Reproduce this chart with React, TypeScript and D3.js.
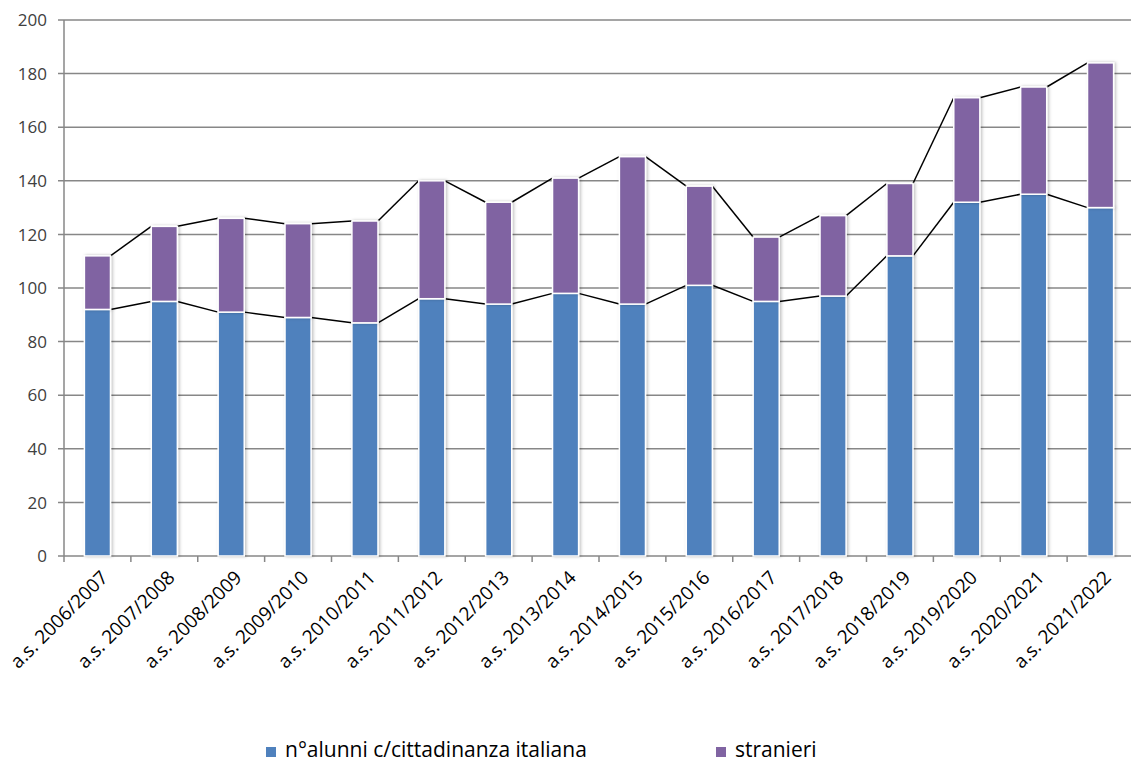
import React from "react";
import * as d3 from "d3";

const categories = [
  "a.s. 2006/2007", "a.s. 2007/2008", "a.s. 2008/2009", "a.s. 2009/2010",
  "a.s. 2010/2011", "a.s. 2011/2012", "a.s. 2012/2013", "a.s. 2013/2014",
  "a.s. 2014/2015", "a.s. 2015/2016", "a.s. 2016/2017", "a.s. 2017/2018",
  "a.s. 2018/2019", "a.s. 2019/2020", "a.s. 2020/2021", "a.s. 2021/2022",
];
const italiani = [92, 95, 91, 89, 87, 96, 94, 98, 94, 101, 95, 97, 112, 132, 135, 130];
const stranieri = [20, 28, 35, 35, 38, 44, 38, 43, 55, 37, 24, 30, 27, 39, 40, 54];
const seriesNames = ["n°alunni c/cittadinanza italiana", "stranieri"];
const colors = ["#4F81BD", "#8064A2"];
const yTicks = [0, 20, 40, 60, 80, 100, 120, 140, 160, 180, 200];

const W = 1131, H = 763;
const left = 64, right = 1134, top = 20, bottom = 556;
const FONT = "'Open Sans', 'Liberation Sans', sans-serif";

export default function App() {
  const x = d3.scaleBand<string>().domain(categories).range([left, right]).paddingInner(0.61).paddingOuter(0.305);
  const step = x.step();
  const y = d3.scaleLinear().domain([0, 200]).range([bottom, top]);
  const rows = categories.map((c, i) => ({ c, italiani: italiani[i], stranieri: stranieri[i] }));
  const stack = d3.stack<any>().keys(["italiani", "stranieri"])(rows);
  const bw = x.bandwidth();
  const grid = "#878787";

  return (
    <svg width={W} height={H} style={{ position: "absolute", left: 0, top: 0, background: "#fff" }} fontFamily={FONT}>
      <defs>
        <filter id="sh" x="-30%" y="-5%" width="160%" height="110%">
          <feDropShadow dx="1.5" dy="0" stdDeviation="1.5" floodColor="#000" floodOpacity="0.25" />
        </filter>
      </defs>
      {yTicks.map((t) => (
        <g key={t}>
          <line x1={left - 6} x2={right} y1={y(t)} y2={y(t)} stroke={grid} strokeWidth={1.5} />
          <text x={47} y={y(t)} dy="0.36em" textAnchor="end" fontSize={17} fill="#404040">{t}</text>
        </g>
      ))}
      <line x1={left} x2={left} y1={top} y2={bottom} stroke={grid} strokeWidth={1.5} />
      {d3.range(categories.length + 1).map((i) => (
        <line key={i} x1={left + i * step} x2={left + i * step} y1={bottom} y2={bottom + 6} stroke={grid} strokeWidth={1.5} />
      ))}
      {stack.map((s, si) => (
        <g key={"sl" + si}>
          {s.slice(0, -1).map((d, i) => {
            const c0 = categories[i], c1 = categories[i + 1];
            return (
              <line key={i} x1={(x(c0) as number) + bw} y1={y(d[1])} x2={x(c1) as number} y2={y(s[i + 1][1])}
                stroke="#000" strokeWidth={1.5} />
            );
          })}
        </g>
      ))}
      {stack.map((s, si) => (
        <g key={"b" + si} filter="url(#sh)">
          {s.map((d, i) => (
            <rect key={i} x={x(categories[i])} y={y(d[1])} width={bw} height={y(d[0]) - y(d[1])}
              fill={colors[si]} stroke="#fff" strokeWidth={1.5} />
          ))}
        </g>
      ))}
      {categories.map((c) => {
        const cx = (x(c) as number) + bw / 2 + 7;
        const cy = bottom + 18;
        return (
          <text key={c} transform={`translate(${cx},${cy}) rotate(-45)`} textAnchor="end" dy="0.35em" fontSize={19} fill="#000">{c}</text>
        );
      })}
      {seriesNames.map((n, i) => {
        const lx = [266, 716][i];
        return (
          <g key={n}>
            <rect x={lx} y={747} width={10} height={10} fill={colors[i]} />
            <text x={lx + 19} y={757} fontSize={21} fill="#000">{n}</text>
          </g>
        );
      })}
    </svg>
  );
}
